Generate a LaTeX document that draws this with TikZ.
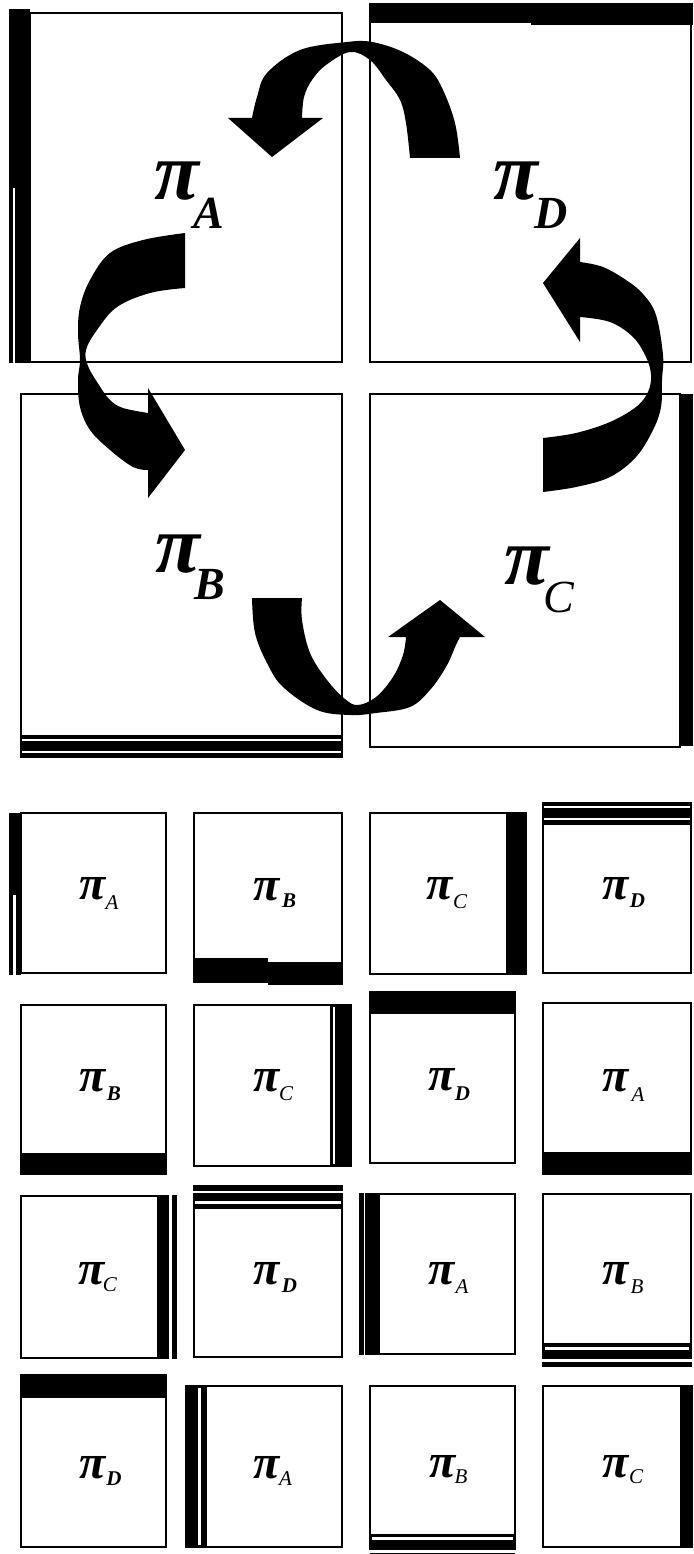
\documentclass[tikz,border=0pt]{standalone}
\usepackage{fontspec}
\setmainfont{Liberation Serif}
\begin{document}
\begin{tikzpicture}[x=1pt,y=-1pt,
  tile/.style={draw=black, line width=1.4pt, fill=white},
  band/.style={fill=black},
  gapline/.style={fill=white},
  arrowshape/.style={fill=black},
  bigpi/.style={inner sep=0pt, font=\fontsize{82}{90}\selectfont\bfseries\itshape},
  bigsubb/.style={inner sep=0pt, font=\fontsize{46}{50}\selectfont\bfseries\itshape},
  bigsubi/.style={inner sep=0pt, font=\fontsize{46}{50}\selectfont\itshape},
  smallpi/.style={inner sep=0pt, font=\fontsize{48}{50}\selectfont\bfseries\itshape},
  smallsubb/.style={inner sep=0pt, font=\fontsize{21}{24}\selectfont\bfseries\itshape},
  smallsubi/.style={inner sep=0pt, font=\fontsize{21}{24}\selectfont\itshape}]
\useasboundingbox (0,0) rectangle (693,1554);
\fill[white] (0,0) rectangle (693,1554);

% ===== big boxes =====
% A
\draw[tile] (30,13) rectangle (342,362);
\fill[band] (9,9) rectangle (30,363);
\fill[gapline] (13,188) rectangle (15.3,363);
% D
\draw[tile] (370,22.5) rectangle (691,362);
\fill[band] (369.3,3) rectangle (531,22.5);
\fill[band] (531,3) rectangle (693,25);
% B
\draw[tile] (21,394) rectangle (342,736);
\fill[band] (20.3,735) rectangle (342.7,758);
\fill[gapline] (22,738.8) rectangle (341,741.3);
\fill[gapline] (22,750.6) rectangle (341,753.3);
% C
\draw[tile] (370,394) rectangle (680,747);
\fill[band] (680,394) rectangle (693,746);

% ===== curved arrows =====
% D -> A (top)
\fill[arrowshape] plot[smooth, tension=0.6] coordinates {(460,158) (455,123) (443,90) (430,70) (403,52) (372,42) (347,42) (300,50) (267,73) (257,97) (252,118)}
  -- (228,118) -- (272,157) -- (323,118) -- (302,118)
  -- plot[smooth, tension=0.6] coordinates {(302,118) (304,97) (312,80) (326,65) (350,52) (370,60) (386,80) (400,100) (406,123) (410,158)} -- cycle;
% A -> B (left)
\fill[arrowshape] plot[smooth, tension=0.6] coordinates {(185,233) (143,240) (110,253) (90,280) (80,307) (78,333) (80,360) (78,380) (80,407) (90,430) (110,450) (133,467) (148,470)}
  -- (148,498) -- (185,450) -- (148,388) -- (148,413)
  -- plot[smooth, tension=0.6] coordinates {(148,413) (123,408) (110,400) (99,385) (88,366) (86,350) (97,330) (117,307) (150,293) (185,288)} -- cycle;
% B -> C (bottom)
\fill[arrowshape] plot[smooth, tension=0.6] coordinates {(252,598) (255,633) (267,663) (283,687) (317,710) (350,715) (376,713) (410,707) (430,690) (446,667) (456,645) (460,637)}
  -- (485,637) -- (440,600) -- (388,637) -- (406,637)
  -- plot[smooth, tension=0.6] coordinates {(406,637) (403,655) (393,677) (376,697) (358,705) (345,699) (327,680) (310,653) (302,620) (302,598)} -- cycle;
% C -> D (right)
\fill[arrowshape] plot[smooth, tension=0.6] coordinates {(543,492) (576,487) (610,477) (636,457) (653,430) (661,407) (662,380) (663,355) (656,315) (643,294) (626,280) (603,267) (580,262)}
  -- (580,238) -- (543,283) -- (580,342) -- (580,317)
  -- plot[smooth, tension=0.6] coordinates {(580,317) (610,322) (633,337) (646,357) (651,375) (648,392) (636,407) (610,422) (576,433) (543,438)} -- cycle;

% big labels
\node[bigpi] (piA) at (176.5,181) {π};
\node[bigsubb] (subA) at (209,213) {A};
\node[bigpi] (piD) at (516,181) {π};
\node[bigsubb] (subD) at (551,213) {D};
\node[bigpi] (piB) at (177.5,554) {π};
\node[bigsubb] (subB) at (210,585) {B};
\node[bigpi] (piC) at (526.5,566) {π};
\node[bigsubi] (subC) at (559,597) {C};

% ===== small tiles =====
% row 1
\draw[tile] (21,813) rectangle (166,973);
\fill[band] (9,813) rectangle (21,975);
\fill[gapline] (13,895) rectangle (16,975);
\node[smallpi] (p11) at (93,889) {π};
\node[smallsubi] (s11) at (112,903) {A};

\draw[tile] (194,813) rectangle (342,970);
\fill[band] (193.3,958) rectangle (268,983);
\fill[band] (268,962) rectangle (342.7,985);
\node[smallpi] (p12) at (266.5,889.5) {π};
\node[smallsubb] (s12) at (289,901) {B};

\draw[tile] (370,813) rectangle (526,974);
\fill[band] (506,812.3) rectangle (526.7,974.7);
\node[smallpi] (p13) at (440,889) {π};
\node[smallsubi] (s13) at (460,902) {C};

\draw[tile] (543,823) rectangle (691,973);
\fill[band] (542.3,802) rectangle (691.7,825);
\fill[gapline] (544,806) rectangle (690,808.3);
\fill[gapline] (544,817.7) rectangle (690,820);
\node[smallpi] (p14) at (616,889) {π};
\node[smallsubb] (s14) at (637.5,901) {D};

% row 2
\draw[tile] (21,1005) rectangle (166,1174);
\fill[band] (20.3,1153) rectangle (166.7,1174.7);
\node[smallpi] (p21) at (93,1081) {π};
\node[smallsubb] (s21) at (114,1094) {B};

\draw[tile] (194,1005) rectangle (331,1166);
\fill[band] (331,1004.3) rectangle (352,1166.7);
\fill[gapline] (332.5,1007) rectangle (335,1164);
\node[smallpi] (p22) at (266.5,1081) {π};
\node[smallsubi] (s22) at (286,1094) {C};

\draw[tile] (370,992) rectangle (515,1163);
\fill[band] (369.3,991.3) rectangle (515.7,1014);
\node[smallpi] (p23) at (442,1080) {π};
\node[smallsubb] (s23) at (462.5,1094) {D};

\draw[tile] (543,1003) rectangle (691,1174);
\fill[band] (542.3,1152) rectangle (691.7,1174.7);
\node[smallpi] (p24) at (616,1081) {π};
\node[smallsubi] (s24) at (638,1095) {A};

% row 3
\draw[tile] (21,1196) rectangle (168,1358);
\fill[band] (157,1195.3) rectangle (168.7,1358.7);
\fill[band] (172,1195.3) rectangle (177,1358.7);
\node[smallpi] (p31) at (92,1274) {π};
\node[smallsubi] (s31) at (110,1285) {C};

\draw[tile] (194,1208) rectangle (342,1357);
\fill[band] (193.3,1185) rectangle (342.7,1208);
\fill[gapline] (193.3,1190.7) rectangle (342.7,1193.3);
\fill[gapline] (195,1200.7) rectangle (341,1204);
\node[smallpi] (p32) at (266.5,1274) {π};
\node[smallsubb] (s32) at (289.5,1286) {D};

\draw[tile] (366,1194) rectangle (515,1354);
\fill[band] (366,1193.3) rectangle (380,1354.7);
\fill[band] (359,1193.3) rectangle (364,1354.7);
\node[smallpi] (p33) at (442,1274) {π};
\node[smallsubi] (s33) at (462,1287) {A};

\draw[tile] (543,1194) rectangle (691,1358);
\fill[band] (542.3,1343) rectangle (691.7,1358.7);
\fill[gapline] (545,1347) rectangle (689,1350);
\fill[band] (542.3,1362) rectangle (691.7,1367);
\node[smallpi] (p34) at (616,1274) {π};
\node[smallsubi] (s34) at (637,1287) {B};

% row 4
\draw[tile] (21,1375) rectangle (166,1547);
\fill[band] (20.3,1374.3) rectangle (166.7,1398);
\node[smallpi] (p41) at (93,1468) {π};
\node[smallsubb] (s41) at (114,1479) {D};

\draw[tile] (186,1386) rectangle (342,1547);
\fill[band] (185.3,1385.3) rectangle (207,1547.7);
\fill[gapline] (198,1388) rectangle (201,1545);
\node[smallpi] (p42) at (266.5,1468) {π};
\node[smallsubi] (s42) at (285.5,1479) {A};

\draw[tile] (370,1386) rectangle (515,1545);
\fill[band] (369.3,1534) rectangle (515.7,1550);
\fill[gapline] (372,1537) rectangle (513,1540);
\fill[band] (370,1552.5) rectangle (515,1553.5);
\node[smallpi] (p43) at (443,1467) {π};
\node[smallsubi] (s43) at (461,1477) {B};

\draw[tile] (543,1386) rectangle (685,1547);
\fill[band] (680,1385.3) rectangle (693,1547.7);
\node[smallpi] (p44) at (616,1467) {π};
\node[smallsubi] (s44) at (636,1477) {C};
\end{tikzpicture}
\end{document}
